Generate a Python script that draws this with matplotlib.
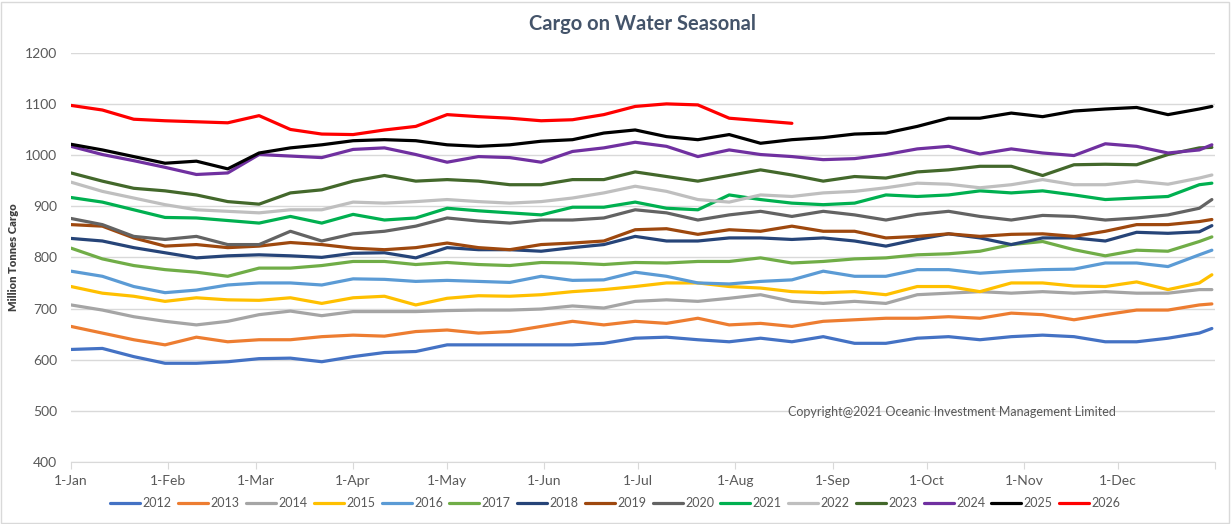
import numpy as np
import matplotlib.pyplot as plt
from matplotlib.patches import Rectangle

# day-of-year sample points (every 10 days, plus 31-Dec)
days = list(range(0, 361, 10)) + [364]

y2012 = [620, 622, 606, 593, 593, 596, 602, 603, 596, 606, 614, 616, 629, 629, 629, 629, 629, 632, 642,
         644, 639, 635, 642, 635, 645, 632, 632, 642, 645, 639, 645, 648, 645, 635, 635, 642, 652, 661]
y2013 = [665, 652, 639, 629, 644, 635, 639, 639, 645, 648, 646, 655, 658, 652, 655, 665, 675, 668, 675,
         671, 681, 668, 671, 665, 675, 678, 681, 681, 684, 681, 691, 688, 678, 688, 697, 697, 707, 709]
y2014 = [707, 697, 684, 675, 668, 675, 688, 695, 686, 694, 694, 694, 696, 697, 697, 699, 705, 701, 714,
         717, 714, 720, 727, 714, 710, 714, 710, 727, 730, 733, 730, 733, 730, 733, 730, 730, 737, 737]
y2015 = [743, 730, 724, 714, 721, 717, 716, 721, 710, 721, 724, 707, 720, 725, 724, 727, 733, 737, 743,
         750, 750, 743, 740, 733, 731, 733, 727, 743, 743, 733, 750, 750, 744, 743, 752, 737, 750, 766]
y2016 = [773, 763, 743, 731, 736, 746, 750, 750, 746, 758, 757, 753, 755, 753, 751, 763, 755, 756, 771,
         763, 750, 748, 753, 756, 773, 763, 763, 776, 776, 769, 773, 776, 777, 789, 789, 782, 805, 814]
y2017 = [818, 797, 784, 776, 771, 763, 779, 779, 784, 792, 792, 786, 790, 786, 784, 790, 789, 786, 790,
         789, 792, 792, 799, 789, 792, 797, 799, 805, 807, 812, 825, 831, 815, 803, 814, 812, 831, 840]
y2018 = [837, 832, 819, 809, 799, 803, 805, 803, 800, 808, 809, 799, 819, 815, 815, 812, 819, 825, 841,
         832, 832, 838, 838, 835, 838, 832, 822, 835, 846, 838, 825, 838, 838, 832, 849, 847, 850, 862]
y2019 = [864, 861, 838, 822, 825, 819, 822, 829, 825, 818, 815, 819, 828, 819, 815, 825, 828, 832, 854,
         856, 845, 854, 851, 861, 851, 851, 838, 841, 846, 841, 845, 846, 841, 851, 864, 864, 870, 874]
y2020 = [876, 864, 841, 835, 841, 825, 825, 851, 832, 846, 851, 861, 877, 871, 867, 873, 873, 877, 893,
         887, 873, 883, 890, 880, 890, 883, 873, 884, 890, 880, 873, 882, 880, 873, 877, 883, 896, 913]
y2021 = [917, 908, 893, 878, 877, 872, 867, 880, 867, 884, 873, 877, 896, 891, 887, 883, 898, 898, 908,
         896, 893, 922, 913, 906, 903, 906, 922, 919, 922, 930, 926, 930, 922, 913, 916, 919, 942, 945]
y2022 = [947, 929, 916, 903, 893, 890, 887, 893, 893, 908, 906, 909, 913, 909, 906, 909, 916, 926, 939,
         929, 913, 908, 922, 919, 926, 929, 936, 945, 943, 936, 942, 952, 942, 942, 949, 943, 955, 961]
y2023 = [965, 949, 935, 930, 922, 909, 904, 926, 932, 949, 960, 949, 952, 949, 942, 942, 952, 952, 967,
         958, 949, 960, 971, 961, 949, 958, 955, 967, 971, 978, 978, 960, 981, 982, 981, 1001, 1014, 1015]
y2024 = [1017, 1001, 989, 976, 962, 965, 1001, 998, 995, 1011, 1014, 1001, 986, 997, 995, 986, 1007, 1014, 1025,
         1017, 997, 1010, 1001, 997, 991, 993, 1001, 1012, 1017, 1002, 1012, 1004, 999, 1022, 1017, 1004, 1010, 1020]
y2025 = [1021, 1010, 997, 984, 988, 973, 1004, 1014, 1020, 1028, 1030, 1028, 1020, 1017, 1020, 1027, 1030, 1043, 1049,
         1036, 1030, 1040, 1023, 1030, 1034, 1041, 1043, 1056, 1072, 1072, 1082, 1075, 1086, 1090, 1093, 1079, 1090, 1095]
y2026 = [1097, 1088, 1070, 1067, 1065, 1063, 1077, 1050, 1041, 1040, 1049, 1056, 1079, 1075, 1072, 1067, 1069, 1079, 1095,
         1100, 1098, 1072, 1067, 1062]

years = ['2012', '2013', '2014', '2015', '2016', '2017', '2018', '2019', '2020',
         '2021', '2022', '2023', '2024', '2025', '2026']
series = [y2012, y2013, y2014, y2015, y2016, y2017, y2018, y2019, y2020,
          y2021, y2022, y2023, y2024, y2025, y2026]
colors = ['#4472C4', '#ED7D31', '#A5A5A5', '#FFC000', '#5B9BD5', '#70AD47', '#264478', '#9E480E',
          '#636363', '#00B050', '#BFBFBF', '#43682B', '#7030A0', '#000000', '#FF0000']

month_starts = [0, 31, 59, 90, 120, 151, 181, 212, 243, 273, 304, 334]
month_labels = ['1-Jan', '1-Feb', '1-Mar', '1-Apr', '1-May', '1-Jun',
                '1-Jul', '1-Aug', '1-Sep', '1-Oct', '1-Nov', '1-Dec']

plt.rcParams['font.family'] = ['Lato', 'DejaVu Sans']
txt = '#595959'

fig = plt.figure(figsize=(12.31, 5.24), dpi=100)
ax = fig.add_axes([0.0577, 0.1183, 0.9293, 0.7811])

for yr, vals, c in zip(years, series, colors):
    ax.plot(days[:len(vals)], vals, color=c, lw=2.3, label=yr, solid_capstyle='round')

ax.set_xlim(0, 365)
ax.set_ylim(400, 1200)
ax.set_yticks(range(400, 1201, 100))
ax.set_xticks(month_starts + [365])
ax.set_xticklabels(month_labels + [''])
ax.grid(axis='y', color='#D9D9D9', lw=1)
ax.set_axisbelow(True)
for s in ['top', 'right', 'left']:
    ax.spines[s].set_visible(False)
ax.spines['bottom'].set_color('#D9D9D9')
ax.tick_params(axis='y', length=0, labelsize=10, colors=txt, pad=10)
ax.tick_params(axis='x', length=5, color='#D9D9D9', labelsize=10, colors=txt, pad=4)

ax.set_ylabel('Million Tonnes Cargo', fontsize=8, fontweight='heavy', color='#404040', labelpad=4)
fig.text(0.522, 0.955, 'Cargo on Water Seasonal', ha='center', va='center',
         fontsize=14.5, fontweight='bold', color='#44546A')
ax.text(281, 497, 'Copyright@2021 Oceanic Investment Management Limited', ha='center', va='center',
        fontsize=9, color=txt)

fig.legend(loc='center', bbox_to_anchor=(0.5, 0.04), ncol=15, frameon=False,
           fontsize=9, handlelength=2.4, handletextpad=0.2, columnspacing=0.5,
           labelcolor=txt)

fig.add_artist(Rectangle((0.001, 0.002), 0.997, 0.995, transform=fig.transFigure,
                         fill=False, edgecolor='#D9D9D9', lw=1))

fig.savefig('out.png', dpi=100)
